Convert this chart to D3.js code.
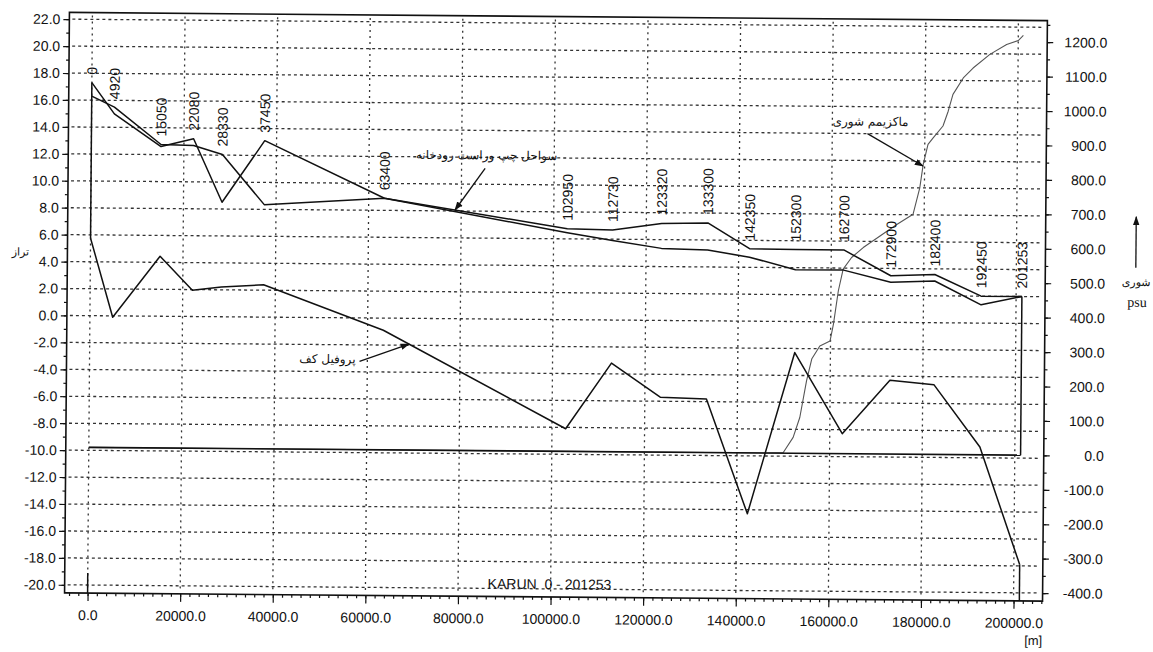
<!DOCTYPE html>
<html>
<head>
<meta charset="utf-8">
<script src="https://cdn.jsdelivr.net/npm/d3@7"></script>
<style>
  body { margin: 0; background: #fff; }
  svg { display: block; }
  text { font-family: "Liberation Sans", Arial, sans-serif; fill: #111; }
  .fa { font-family: "DejaVu Sans", sans-serif; }
</style>
</head>
<body>
<svg id="chart" width="1153" height="652"></svg>
<script>
// Karun river longitudinal profile: chainage of each cross-section [m]
const stations = [0, 4920, 15050, 22080, 28330, 37450, 63400, 102950, 112730, 123320,
                  133300, 142350, 152300, 162700, 172900, 182400, 192450, 201253];
const stationLabels = ["0", "4920", "15050", "22080", "28330", "37450", "63400", "102950", "112730",
                       "123320", "133300", "142350", "152300", "162700", "172900", "182400", "192450", "201253"];
// bank levels (left / right) and bed level at each section [m]
const bankLeft  = [17.3, 15.0, 12.6, 13.2, 8.5, 13.1, 8.9, 6.75, 6.68, 7.2, 7.27, 5.38, 5.35, 5.35, 3.46, 3.58, 2.0, 2.0];
const bankRight = [16.3, 15.5, 12.75, 12.7, 12.05, 8.35, 8.9, 6.45, 5.9, 5.35, 5.25, 4.75, 3.85, 3.85, 2.98, 3.1, 1.36, 2.0];
const bedLevel  = [5.75, -0.1, 4.45, 1.95, 2.2, 2.4, -0.9, -8.1, -3.2, -5.7, -5.8, -14.3, -2.3, -8.3, -4.3, -4.6, -9.2, -17.9];
// maximum salinity along the reach [psu]
const salStations = [0, 146000, 150000, 152100, 153500, 154900, 156000, 157700, 159900, 160600, 161600,
                     162600, 164400, 166900, 170500, 174100, 177600, 179000, 179700, 180700, 181800,
                     183900, 185000, 186000, 188200, 190300, 193900, 197500, 200000, 201100];
const salMax = [0, 0, 2, 46, 104, 211, 275, 312, 327, 376, 473, 536, 570, 599, 633, 667, 697, 774, 842,
                900, 919, 954, 997, 1046, 1094, 1123, 1163, 1192, 1204, 1219];
// minimum salinity (zero along the whole reach)
const salMinStations = [0, 201253];
const salMin = [0, 0];
// axis ticks
const levelTicks = d3.range(-20, 22.01, 2);
const levelMinor = d3.range(-20, 22.51, 1);
const salTicks = d3.range(-400, 1200.1, 100);
const salMinor = d3.range(-400, 1250.1, 50);
const distTicks = d3.range(0, 200000.1, 20000);
const distMinor = d3.range(-4000, 206000.1, 2000);

const svg = d3.select("#chart");
const defs = svg.append("defs");
defs.append("marker").attr("id", "head").attr("viewBox", "0 0 10 10")
  .attr("refX", 9).attr("refY", 5).attr("markerWidth", 7).attr("markerHeight", 7)
  .attr("orient", "auto-start-reverse")
  .append("path").attr("d", "M0,1.5 L10,5 L0,8.5 z").attr("fill", "#111");

const g = svg.append("g").attr("transform", "rotate(0.48, 555, 305)");

const x = d3.scaleLinear().domain([-4970, 206260]).range([67, 1045]);
const yL = d3.scaleLinear().domain([-20.6, 22.5]).range([597, 16.5]);
const yR = d3.scaleLinear().domain([-423.2, 1262.5]).range([597, 16.5]);
const [x0, x1] = x.range();
const [yB, yT] = yL.range();

// dotted grid
const grid = g.append("g").attr("class", "grid");
levelTicks.forEach(v => {
  grid.append("path")
    .attr("d", `M${x0 + 3},${yL(v)}H${x1 - 3}`)
    .attr("fill", "none").attr("stroke", "#333").attr("stroke-width", 1.3)
    .attr("stroke-dasharray", "3,3");
});
distTicks.forEach(v => {
  grid.append("path")
    .attr("d", `M${x(v)},${yT + 3}V${yB - 2}`)
    .attr("fill", "none").attr("stroke", "#333").attr("stroke-width", 1.3)
    .attr("stroke-dasharray", "2,4");
});

// axes
const fmt = d => d.toFixed(1);
function styleAxis(sel) {
  sel.select(".domain").remove();
  sel.selectAll("line").attr("stroke", "#111").attr("stroke-width", 1.2);
  sel.selectAll("text").style("font-size", "14px").attr("fill", "#111");
}
g.append("g").attr("transform", `translate(${x0},0)`)
  .call(d3.axisLeft(yL).tickValues(levelMinor).tickSize(3).tickFormat("")).call(styleAxis);
g.append("g").attr("transform", `translate(${x0},0)`)
  .call(d3.axisLeft(yL).tickValues(levelTicks).tickSize(6).tickPadding(3).tickFormat(fmt)).call(styleAxis);

g.append("g").attr("transform", `translate(${x1},0)`)
  .call(d3.axisRight(yR).tickValues(salMinor).tickSize(3).tickFormat("")).call(styleAxis);
const ra = g.append("g").attr("transform", `translate(${x1},0)`)
  .call(d3.axisRight(yR).tickValues(salTicks).tickSize(6).tickFormat(fmt)).call(styleAxis);
ra.selectAll("text").attr("x", 60).attr("text-anchor", "end");

g.append("g").attr("transform", `translate(0,${yB})`)
  .call(d3.axisBottom(x).tickValues(distMinor).tickSize(3).tickFormat("")).call(styleAxis);
g.append("g").attr("transform", `translate(0,${yB})`)
  .call(d3.axisBottom(x).tickValues(distTicks).tickSize(8).tickPadding(9).tickFormat(fmt)).call(styleAxis);

// frame
g.append("rect").attr("x", x0).attr("y", yT).attr("width", x1 - x0).attr("height", yB - yT)
  .attr("fill", "none").attr("stroke", "#111").attr("stroke-width", 1.6);

// series
const lineL = d3.line().x(d => x(d[0])).y(d => yL(d[1]));
const lineR = d3.line().x(d => x(d[0])).y(d => yR(d[1]));
const series = g.append("g").attr("fill", "none").attr("stroke-linejoin", "round");

series.append("path").attr("d", lineR(d3.zip(salStations, salMax)))
  .attr("stroke", "#555").attr("stroke-width", 1.1);
series.append("path").attr("d", lineR(d3.zip(salMinStations, salMin)))
  .attr("stroke", "#111").attr("stroke-width", 1.6);
series.append("path").attr("d", lineL(d3.zip(stations, bankLeft)))
  .attr("stroke", "#111").attr("stroke-width", 1.5);
series.append("path").attr("d", lineL(d3.zip(stations, bankRight)))
  .attr("stroke", "#111").attr("stroke-width", 1.5);
series.append("path").attr("d", lineL(d3.zip(stations, bedLevel)))
  .attr("stroke", "#111").attr("stroke-width", 1.5);

// end walls of the reach
const first = 0, last = stations.length - 1;
const walls = [
  [[stations[first], yL(bankLeft[first])], [stations[first], yL(bedLevel[first])]],
  [[stations[first], yL(-19.1)], [stations[first], yB]],
  [[stations[last], yL(bankLeft[last])], [stations[last], yR(salMin[salMin.length - 1])]],
  [[stations[last], yL(bedLevel[last])], [stations[last], yB]]
];
series.selectAll("line.wall").data(walls).join("line").attr("class", "wall")
  .attr("x1", d => x(d[0][0])).attr("x2", d => x(d[1][0]))
  .attr("y1", d => d[0][1]).attr("y2", d => d[1][1])
  .attr("stroke", "#111").attr("stroke-width", 1.5);

// section chainage labels above the banks
g.selectAll("text.st").data(stations).join("text").attr("class", "st")
  .attr("transform", (d, i) => `translate(${x(d)},${yL(Math.max(bankLeft[i], bankRight[i])) - 8}) rotate(-90)`)
  .attr("dy", "0.36em").attr("text-anchor", "start")
  .style("font-size", "14px")
  .text((d, i) => stationLabels[i]);

// annotations
function interp(xs, ys, v) {
  const i = Math.max(1, d3.bisectLeft(xs, v));
  const t = (v - xs[i - 1]) / (xs[i] - xs[i - 1]);
  return ys[i - 1] + t * (ys[i] - ys[i - 1]);
}
const notes = [
  { text: "سواحل چپ وراست رودخانه", at: 78660, y: yL(interp(stations, bankLeft, 78660)), tx: 556, ty: 160, ax: 484, ay: 169 },
  { text: "ماکزیمم شوری", at: 179650, y: yR(interp(salStations, salMax, 179650)), tx: 907, ty: 123, ax: 866, ay: 131 },
  { text: "پروفیل کف", at: 68960, y: yL(interp(stations, bedLevel, 68960)), tx: 356, ty: 365, ax: 360, ay: 363 }
];
notes.forEach(n => {
  g.append("text").attr("class", "fa").attr("x", n.tx).attr("y", n.ty)
    .attr("text-anchor", "end").style("font-size", "12px").text(n.text);
  g.append("line").attr("x1", n.ax).attr("y1", n.ay).attr("x2", x(n.at)).attr("y2", n.y)
    .attr("stroke", "#111").attr("stroke-width", 1.3).attr("marker-end", "url(#head)");
});

// axis titles
g.append("text").attr("class", "fa").attr("x", 20).attr("y", 260).attr("text-anchor", "middle")
  .style("font-size", "11px").text("تراز");
g.append("text").attr("class", "fa").attr("x", 1136).attr("y", 281).attr("text-anchor", "middle")
  .style("font-size", "11px").text("شوری");
g.append("text").attr("x", 1137).attr("y", 302).attr("text-anchor", "middle")
  .style("font-family", "'Liberation Serif', serif").style("font-size", "14px").text("psu");
g.append("line").attr("x1", 1135.5).attr("x2", 1135.5).attr("y1", 263).attr("y2", 212)
  .attr("stroke", "#111").attr("stroke-width", 1.3).attr("marker-end", "url(#head)");
g.append("text").attr("x", 490).attr("y", 589).attr("xml:space", "preserve")
  .style("font-size", "14px").text("KARUN  0 - 201253");
g.append("text").attr("x", 1027).attr("y", 641).style("font-size", "13px").text("[m]");
</script>
</body>
</html>
